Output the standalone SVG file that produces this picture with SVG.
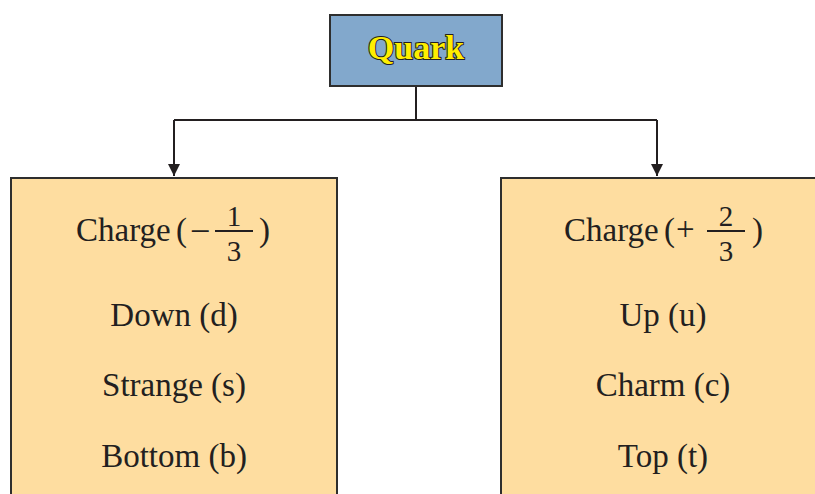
<svg xmlns="http://www.w3.org/2000/svg" width="815" height="494" viewBox="0 0 815 494">
<style>
.box{stroke:#2e2e2e;stroke-width:2}
.t{font-family:"Liberation Serif",serif;font-size:33px;fill:#231f20}
.c{text-anchor:middle}
.f{font-family:"Liberation Serif",serif;font-size:29px;fill:#231f20;text-anchor:middle}
.conn{fill:none;stroke:#231f20;stroke-width:2}
</style>
<defs>
<marker id="ah" viewBox="0 0 12 16" refX="12" refY="6" markerWidth="12" markerHeight="16" markerUnits="userSpaceOnUse" orient="auto">
<path d="M0,0 L12,6 L0,12 Z" fill="#231f20"/>
</marker>
</defs>
<rect width="815" height="494" fill="#fff"/>
<g id="connectors">
<path class="conn" d="M416,86 V120 M174,120 H657"/>
<path class="conn" d="M174,120 V176" marker-end="url(#ah)"/>
<path class="conn" d="M657,120 V176" marker-end="url(#ah)"/>
</g>
<g id="quark">
<rect class="box" x="330" y="15" width="172" height="71" fill="#82a8cc"/>
<text x="416" y="59" text-anchor="middle" font-family="Liberation Serif,serif" font-weight="bold" font-size="34" fill="#ffee00" stroke="#231f20" stroke-width="2" paint-order="stroke">Quark</text>
</g>
<g id="negative">
<rect class="box" x="11" y="178" width="326" height="330" fill="#fedda0"/>
<text class="t" x="76" y="241">Charge</text>
<text class="t" x="176" y="241">(</text>
<text class="t" x="192" y="239">–</text>
<text class="f" x="234" y="226">1</text>
<line x1="215" y1="231" x2="253" y2="231" stroke="#231f20" stroke-width="2"/>
<text class="f" x="234" y="261">3</text>
<text class="t" x="259" y="241">)</text>
<text class="t c" x="174" y="326">Down (d)</text>
<text class="t c" x="174" y="396">Strange (s)</text>
<text class="t c" x="174" y="467">Bottom (b)</text>
</g>
<g id="positive">
<rect class="box" x="501" y="178" width="330" height="330" fill="#fedda0"/>
<text class="t" x="564" y="241">Charge</text>
<text class="t" x="664" y="241">(</text>
<text class="t" x="676" y="240" font-size="36">+</text>
<text class="f" x="726" y="226">2</text>
<line x1="707" y1="231" x2="745" y2="231" stroke="#231f20" stroke-width="2"/>
<text class="f" x="726" y="261">3</text>
<text class="t" x="752" y="241">)</text>
<text class="t c" x="663" y="326">Up (u)</text>
<text class="t c" x="663" y="396">Charm (c)</text>
<text class="t c" x="663" y="467">Top (t)</text>
</g>
</svg>
